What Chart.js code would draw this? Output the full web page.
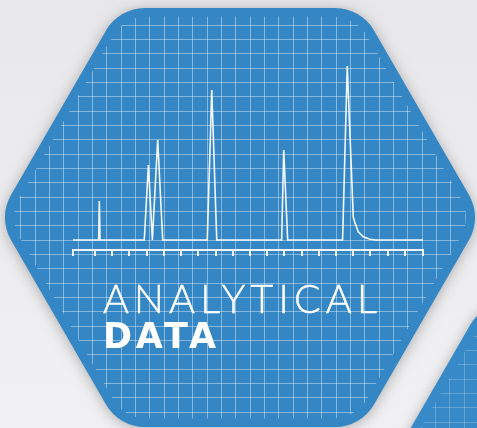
<!DOCTYPE html>
<html>
<head>
<meta charset="utf-8">
<script src="https://cdn.jsdelivr.net/npm/chart.js@4.4.1/dist/chart.umd.min.js"></script>
<style>
  html, body { margin: 0; padding: 0; background: #ececee; }
  #wrap { position: relative; width: 477px; height: 428px; overflow: hidden; }
  #chart { position: absolute; left: 0; top: 0; }
  .label { position: absolute; left: 103px; color: #fff; white-space: nowrap; line-height: 1; }
  #l1 { top: 278px; font-family: Lato, 'Open Sans', sans-serif; font-size: 39.5px; font-weight: 300; letter-spacing: 5.2px; -webkit-text-stroke: 0.4px #fff; }
  #l2 { top: 318.5px; font-family: 'DejaVu Sans', sans-serif; font-size: 35px; font-weight: bold; letter-spacing: 3.8px; }
</style>
</head>
<body>
<div id="wrap">
  <canvas id="chart" width="477" height="428"></canvas>
  <div class="label" id="l1">ANALYTICAL</div>
  <div class="label" id="l2">DATA</div>
</div>
<script>
// chromatogram, x in tick units, y in signal units
const retentionTime = [-0.28, 1.21, 1.25, 1.29, 3.86, 4.10, 4.33, 4.64, 4.93, 7.52, 7.78, 8.07,
    11.84, 11.96, 12.19, 15.38, 15.65, 16.00, 16.10, 16.29, 16.58, 16.97, 17.30, 20.05];
const signal = [0, 0, 39, 0, 0, 75, 0, 100, 0, 0, 150, 0,
    0, 90, 0, 0, 174, 23, 17, 8.3, 3.3, 0.7, 0, 0];
const tickPositions = [-0.28, 1, 2, 3, 4, 5, 6, 7, 8, 9, 10, 11, 12, 13, 14, 15, 16, 17, 18, 19, 20.05];

function hexPath(ctx, cx, cy, R, H, r) {
    const v = [
        [cx - R, cy], [cx - R / 2, cy - H], [cx + R / 2, cy - H],
        [cx + R, cy], [cx + R / 2, cy + H], [cx - R / 2, cy + H]
    ];
    ctx.beginPath();
    const s0 = [(v[5][0] + v[0][0]) / 2, (v[5][1] + v[0][1]) / 2];
    ctx.moveTo(s0[0], s0[1]);
    for (let i = 0; i < 6; i++) {
        const a = v[i], b = v[(i + 1) % 6];
        ctx.arcTo(a[0], a[1], b[0], b[1], r);
    }
    ctx.closePath();
}

function drawGrid(ctx, x0, y0, step, color) {
    ctx.strokeStyle = color;
    ctx.lineWidth = 1;
    ctx.beginPath();
    for (let x = x0; x < 480; x += step) {
        ctx.moveTo(Math.round(x) + 0.5, 0);
        ctx.lineTo(Math.round(x) + 0.5, 428);
    }
    for (let y = y0; y < 430; y += step) {
        ctx.moveTo(0, Math.round(y) + 0.5);
        ctx.lineTo(477, Math.round(y) + 0.5);
    }
    ctx.stroke();
}

const backdrop = {
    id: 'backdrop',
    beforeDraw(chart) {
        const ctx = chart.ctx;
        ctx.save();
        const g = ctx.createLinearGradient(0, 0, 0, 428);
        g.addColorStop(0, '#e8e8ea');
        g.addColorStop(1, '#f1f1f3');
        ctx.fillStyle = g;
        ctx.fillRect(0, 0, 477, 428);

        // second hexagon, bottom right
        ctx.save();
        ctx.shadowColor = 'rgba(0,0,0,0.25)';
        ctx.shadowBlur = 12;
        hexPath(ctx, 603, 514, 242, 209.5, 40);
        ctx.fillStyle = '#3889c8';
        ctx.fill();
        ctx.restore();
        ctx.save();
        hexPath(ctx, 603, 514, 232, 201, 36);
        ctx.clip();
        drawGrid(ctx, 5, 6, 14.33, 'rgba(255,255,255,0.22)');
        ctx.restore();

        // main hexagon
        ctx.save();
        ctx.shadowColor = 'rgba(0,0,0,0.28)';
        ctx.shadowBlur = 14;
        ctx.shadowOffsetY = 2;
        hexPath(ctx, 240, 217.5, 242, 209.5, 45);
        ctx.fillStyle = '#3486c4';
        ctx.fill();
        ctx.restore();
        ctx.save();
        hexPath(ctx, 240, 217.5, 232, 201, 40);
        ctx.clip();
        drawGrid(ctx, 6, 10.4, 14.33, 'rgba(255,255,255,0.4)');
        ctx.restore();
        ctx.restore();
    }
};

const ctx = document.getElementById('chart').getContext('2d');
const chart = new Chart(ctx, {
    type: 'line',
    data: {
        datasets: [{
            data: retentionTime.map((t, i) => ({ x: t, y: signal[i] })),
            borderColor: 'rgba(255,255,255,0.95)',
            borderWidth: 1.6,
            pointRadius: 0,
            tension: 0,
            fill: false
        }]
    },
    options: {
        responsive: false,
        animation: false,
        devicePixelRatio: 1,
        layout: { padding: { left: 73, right: 54, top: 60, bottom: 172 } },
        plugins: { legend: { display: false }, tooltip: { enabled: false } },
        scales: {
            x: {
                type: 'linear',
                min: -0.28,
                max: 20.05,
                afterBuildTicks: (axis) => { axis.ticks = tickPositions.map(v => ({ value: v })); },
                ticks: { display: false },
                grid: { drawOnChartArea: false, drawTicks: true, tickLength: 6, color: 'rgba(255,255,255,0.92)', lineWidth: 2 },
                border: { display: true, color: 'rgba(255,255,255,0.92)', width: 2 }
            },
            y: {
                type: 'linear',
                min: -10,
                max: 180,
                display: false
            }
        }
    },
    plugins: [backdrop]
});
</script>
</body>
</html>
